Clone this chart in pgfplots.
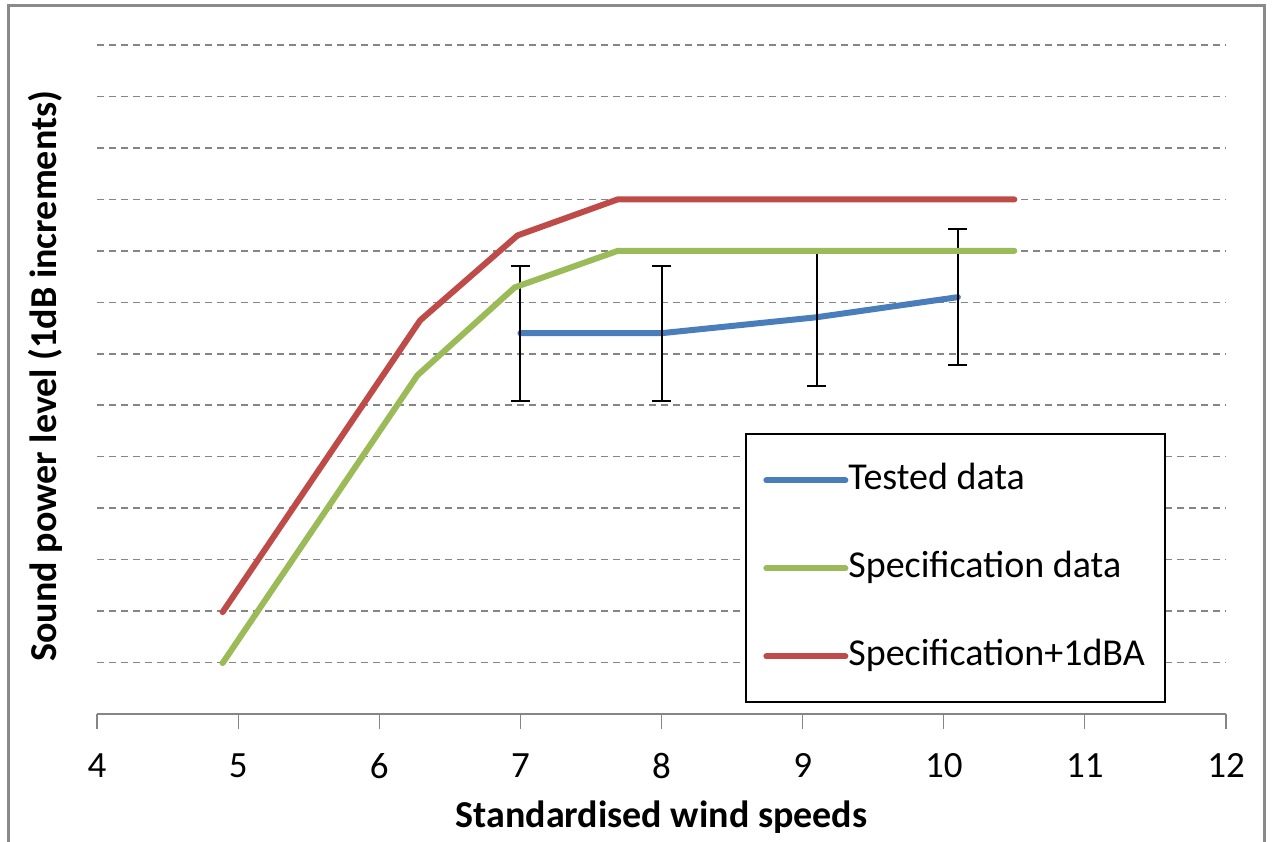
\documentclass[border=0pt]{standalone}
\usepackage{pgfplots}
\pgfplotsset{compat=1.18}
\usepackage{fontspec}
\setmainfont{Carlito}
\definecolor{sblue}{HTML}{4A7EBB}
\definecolor{sgreen}{HTML}{9BBB59}
\definecolor{sred}{HTML}{BE4B48}
\definecolor{gridgray}{HTML}{858585}
\definecolor{framegray}{HTML}{8A8A8A}
\begin{document}
\begin{tikzpicture}
\begin{axis}[
 scale only axis, width=564.5pt, height=334.5pt,
 xmin=4, xmax=12, ymin=0, ymax=13,
 axis x line*=bottom, axis y line*=left,
 y axis line style={draw=none},
 x axis line style={draw=gridgray, line width=0.8pt},
 xtick={4,...,12}, ytick={1,...,13}, yticklabels={},
 y tick style={draw=none},
 x tick style={draw=gridgray, line width=0.6pt},
 tick align=outside, major tick length=7.5pt,
 ymajorgrids, grid style={gridgray, line width=0.75pt, dash pattern=on 3.25pt off 2.75pt},
 tick label style={font=\fontsize{18.5}{22}\selectfont},
 /pgf/number format/assume math mode=true,
 xticklabel shift=8.7pt,
 xlabel={Standardised wind speeds},
 ylabel={Sound power level (1dB increments)},
 label style={font=\bfseries\fontsize{19}{23}\selectfont},
 xlabel style={at={(axis description cs:0.5,-0.1689)}, anchor=base},
 ylabel style={at={(axis description cs:-0.0363,0.505)}, anchor=base},
 clip=false,
 legend style={at={(axis cs:8.719,4.877)}, anchor=north west, draw=none, fill=none,
   inner sep=0pt, font=\fontsize{19}{23}\selectfont, row sep=27pt, column sep=0pt,
   nodes={inner sep=0pt, text height=13pt, text depth=4pt}, cells={anchor=west}},
 legend image code/.code={\draw[#1, line cap=round] (0pt,0pt) -- (39.5pt,0pt);},
]
\draw[black, line width=0.9pt, fill=white] (axis cs:8.599,5.441) rectangle (axis cs:11.568,0.233);
\addplot[sblue, line width=3pt, line cap=round, line join=round,
  error bars/.cd, y dir=both, y explicit,
  error bar style={black, line width=1pt, line cap=butt},
  error mark options={black, rotate=90, mark size=4.75pt, line width=1pt}]
 coordinates {(7,7.40) +- (0,1.31) (8,7.40) +- (0,1.31) (9.1,7.71) +- (0,1.33) (10.1,8.10) +- (0,1.32)};
\addplot[sgreen, line width=3pt, line cap=round, line join=round]
 coordinates {(4.89,0.99) (6.27,6.58) (6.96,8.29) (7.69,9.0) (10.5,9.0)};
\addplot[sred, line width=3pt, line cap=round, line join=round]
 coordinates {(4.89,1.98) (6.29,7.65) (6.98,9.30) (7.69,10.0) (10.5,10.0)};
\legend{Tested data, Specification data, Specification+1dBA}
\end{axis}
\draw[framegray, line width=1.5pt] ([xshift=-44pt,yshift=-70pt]current axis.south west) -- ([xshift=-44pt,yshift=19.5pt]current axis.north west) -- ([xshift=19pt,yshift=19.5pt]current axis.north east) -- ([xshift=19pt,yshift=-70pt]current axis.south east);
\pgfresetboundingbox
\path ([xshift=-48.5pt,yshift=-63.5pt]current axis.south west) rectangle ([xshift=24pt,yshift=22.5pt]current axis.north east);
\end{tikzpicture}
\end{document}
